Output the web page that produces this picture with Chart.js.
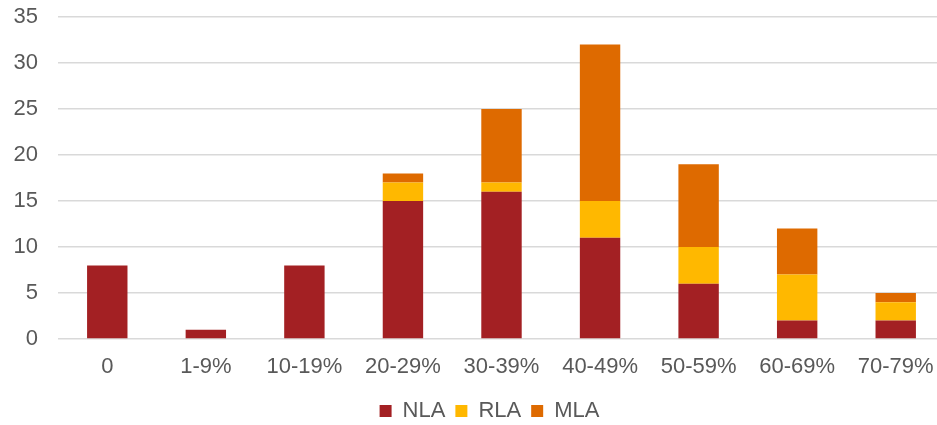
<!DOCTYPE html>
<html><head><meta charset="utf-8">
<script src="https://cdn.jsdelivr.net/npm/chart.js@4"></script>
<style>html,body{margin:0;padding:0;overflow:hidden;background:#fff}#wrap{width:945px;height:425px}</style>
</head><body><div id="wrap"><canvas id="c" width="945" height="425"></canvas></div>
<script>
const categories = ["0","1-9%","10-19%","20-29%","30-39%","40-49%","50-59%","60-69%","70-79%"];
const nla = [8,1,8,15,16,11,6,2,2];
const rla = [0,0,0,2,1,4,4,5,2];
const mla = [0,0,0,1,8,17,9,5,1];
const yTicks = [0,5,10,15,20,25,30,35];

const FONT = "'Liberation Sans', Arial, sans-serif";
const TXT = "#595959";
const shiftLegend = {
  id:'shiftLegend',
  afterLayout(chart){ if(chart.legend){ chart.legend.left += 17; chart.legend.right += 17; } }
};
new Chart(document.getElementById('c'), {
  type: 'bar',
  data: {
    labels: categories,
    datasets: [
      {label:'NLA', data:nla, backgroundColor:'#A32023'},
      {label:'RLA', data:rla, backgroundColor:'#FFB800'},
      {label:'MLA', data:mla, backgroundColor:'#DE6A00'}
    ]
  },
  plugins:[shiftLegend],
  options: {
    responsive:false, animation:false,
    layout:{padding:{top:0,bottom:-7,left:0,right:0}},
    datasets:{bar:{categoryPercentage:0.41,barPercentage:1}},
    scales:{
      x:{stacked:true,
         grid:{display:false},
         border:{display:false},
         ticks:{color:TXT,font:{family:FONT,size:22},padding:7,maxRotation:0},
         afterFit:s=>{s.height=51;s.paddingLeft=0;s.paddingRight=0;}
      },
      y:{stacked:true,min:0,max:35,
         afterBuildTicks:s=>{s.ticks=yTicks.map(v=>({value:v}));},
         grid:{color:'#d9d9d9',lineWidth:1.5,drawTicks:false},
         border:{display:false},
         ticks:{color:TXT,font:{family:FONT,size:22},padding:20},
         afterFit:s=>{s.width=58;s.paddingTop=17;s.paddingBottom=0;}
      }
    },
    plugins:{
      tooltip:{enabled:false},
      legend:{position:'bottom',
        labels:{color:TXT,font:{family:FONT,size:22},boxWidth:12,boxHeight:12,padding:10}
      }
    }
  }
});
</script></body></html>
